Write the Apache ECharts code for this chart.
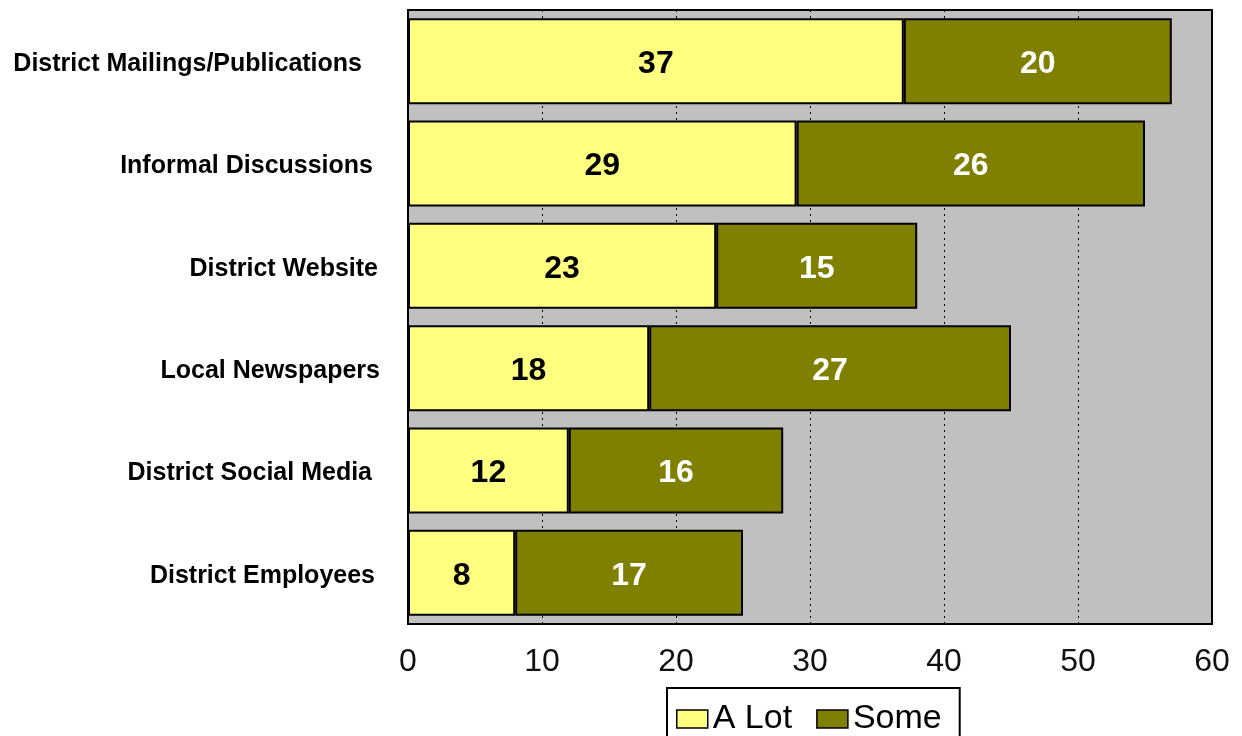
<!DOCTYPE html>
<html>
<head>
<meta charset="utf-8">
<script src="https://cdn.jsdelivr.net/npm/echarts@6/dist/echarts.min.js"></script>
<style>
  html, body { margin: 0; padding: 0; background: #ffffff; }
  #chart { width: 1242px; height: 736px; }
</style>
</head>
<body>
<div id="chart"></div>
<script>
// Sources of information, listed top to bottom
const categories = [
  'District Mailings/Publications',
  'Informal Discussions',
  'District Website',
  'Local Newspapers',
  'District Social Media',
  'District Employees'
];
const aLot = [37, 29, 23, 18, 12, 8];
const some = [20, 26, 15, 27, 16, 17];
const xTicks = [0, 10, 20, 30, 40, 50, 60];

const FONT = 'Liberation Sans, Arial, sans-serif';

// slightly uneven right edges of the category labels
const labelPadRight = [18, 7, 2, 0, 8, 5];
const richCats = {};
labelPadRight.forEach((p, i) => {
  richCats['c' + i] = {
    fontFamily: FONT, fontWeight: 'bold', fontSize: 25, color: '#000000',
    padding: [6, p, 0, 0]
  };
});

const chart = echarts.init(document.getElementById('chart'), null, { renderer: 'canvas' });

const barLabel = (color) => ({
  show: true,
  position: 'inside',
  offset: [0, 3],
  color: color,
  fontFamily: FONT,
  fontWeight: 'bold',
  fontSize: 32
});

chart.setOption({
  animation: false,
  backgroundColor: '#ffffff',
  grid: {
    left: 408, right: 30, top: 10, bottom: 112,
    show: true,
    backgroundColor: '#c0c0c0',
    borderColor: '#000000',
    borderWidth: 2
  },
  legend: {
    top: 688,
    left: 667,
    data: ['A Lot', 'Some'],
    icon: 'rect',
    itemWidth: 31,
    itemHeight: 18,
    itemGap: 24,
    padding: [14, 18, 12, 9],
    borderColor: '#000000',
    borderWidth: 2,
    backgroundColor: '#ffffff',
    itemStyle: { borderColor: '#000000', borderWidth: 1.5 },
    textStyle: {
      fontFamily: FONT,
      fontSize: 34,
      color: '#000000'
    }
  },
  xAxis: {
    type: 'value',
    min: 0, max: 60, interval: 10,
    axisLine: { show: false },
    axisTick: { show: false },
    axisLabel: {
      margin: 22,
      fontFamily: FONT,
      fontSize: 32,
      color: '#111111',
      formatter: (v) => xTicks.includes(v) ? String(v) : ''
    },
    splitLine: {
      show: true,
      lineStyle: { color: '#000000', type: [2, 4], width: 1 }
    }
  },
  yAxis: {
    type: 'category',
    inverse: true,
    data: categories,
    axisLine: { show: false },
    axisTick: { show: false },
    axisLabel: {
      margin: 28,
      formatter: (v, i) => '{c' + i + '|' + v + '}',
      rich: richCats
    }
  },
  series: [
    {
      name: 'A Lot',
      type: 'bar',
      stack: 'total',
      barCategoryGap: '16%',
      data: aLot,
      itemStyle: { color: '#ffff80', borderColor: '#000000', borderWidth: 2 },
      label: barLabel('#000000')
    },
    {
      name: 'Some',
      type: 'bar',
      stack: 'total',
      data: some,
      itemStyle: { color: '#808000', borderColor: '#000000', borderWidth: 2 },
      label: barLabel('#ffffff')
    }
  ]
});
</script>
</body>
</html>
